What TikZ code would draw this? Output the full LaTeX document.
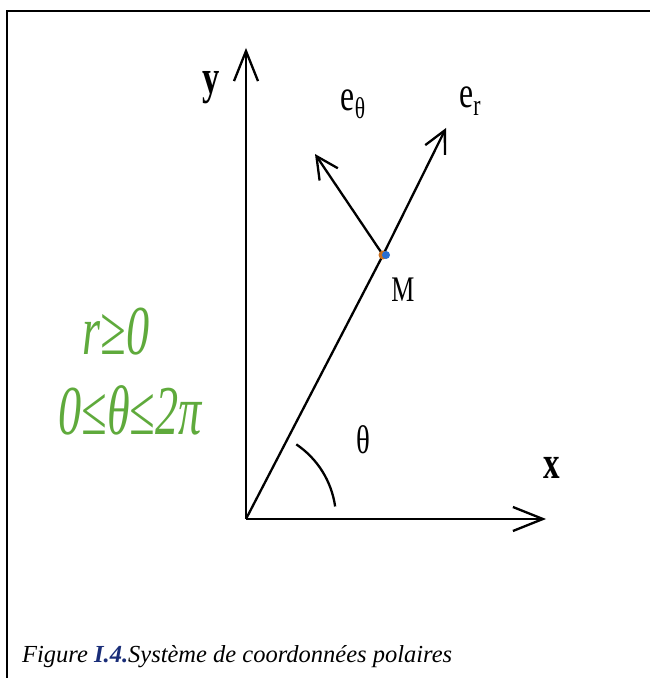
\documentclass[tikz,border=0pt]{standalone}
\usepackage{fontspec}
\setmainfont{Liberation Serif}
\usepackage{xcolor}
\usetikzlibrary{positioning,arrows.meta}
\definecolor{condgreen}{RGB}{95,170,60}
\definecolor{capblue}{RGB}{25,45,120}
\definecolor{dotorange}{RGB}{200,110,30}
\definecolor{dotblue}{RGB}{40,110,210}

\begin{document}
\begin{tikzpicture}[x=1pt,y=1pt,
		axis/.style={line width=2.3pt, -{Straight Barb[length=30pt,width=24pt,line width=2.3pt]}},
		vec/.style={line width=2.3pt, -{Straight Barb[length=22pt,width=22pt,line width=2.3pt]}},
		lbl/.style={inner sep=0pt, xscale=0.72},
		cond/.style={inner sep=0pt, text=condgreen, xscale=0.66, font=\fontsize{70}{74}\selectfont\itshape}]
				\useasboundingbox (0,0) rectangle (649,678);
				\draw[line width=2.3pt] (7,-2) -- (7,667) -- (651,667);
				
				\coordinate (O) at (246,159);
				\coordinate (M) at (383,423);
				\coordinate (xend) at (546,159);
				\coordinate (yend) at (246,630);
				\coordinate (ertip) at (446,550);
				\coordinate (ethtip) at (315,524);
				
				\draw[axis] (O) -- (xend);
				\draw[axis] (O) -- (yend);
				\draw[line width=2.3pt] (O) -- (M);
				\draw[vec] (M) -- (ertip);
				\draw[vec] (M) -- (ethtip);
				\fill[dotorange] (M) circle (4.5);
				\fill[dotblue] ([xshift=3pt]M) circle (4);
				
				\draw[line width=2.3pt] (O) ++(56:90) arc (56:8:90);
				
				\node[lbl, font=\fontsize{48}{52}\selectfont\bfseries] (ylab) at (211,590) {y};
				\node[lbl, font=\fontsize{46}{50}\selectfont\bfseries] (xlab) at (552,210) {x};
				\node[lbl, font=\fontsize{44}{48}\selectfont] (eth) at (353,574) {e\raisebox{-8pt}{\fontsize{30}{32}\selectfont θ}};
				\node[lbl, font=\fontsize{44}{48}\selectfont] (er) at (470,577) {e\raisebox{-8pt}{\fontsize{30}{32}\selectfont r}};
				\node[lbl, font=\fontsize{36}{40}\selectfont] (mlab) at (403,388) {M};
				\node[lbl, font=\fontsize{40}{44}\selectfont] (thlab) at (363,238) {θ};
				
				\node[cond] (c1) at (116,346) {r≥0};
				\node[cond] (c2) at (130,268) {0≤θ≤2π};
				
				\node[anchor=base west, inner sep=0pt, font=\fontsize{24.5}{28}\selectfont\itshape] (cap) at (22,16)
					{Figure {\bfseries\color{capblue}I.4.}Système de coordonnées polaires};
			\end{tikzpicture}
\end{document}
